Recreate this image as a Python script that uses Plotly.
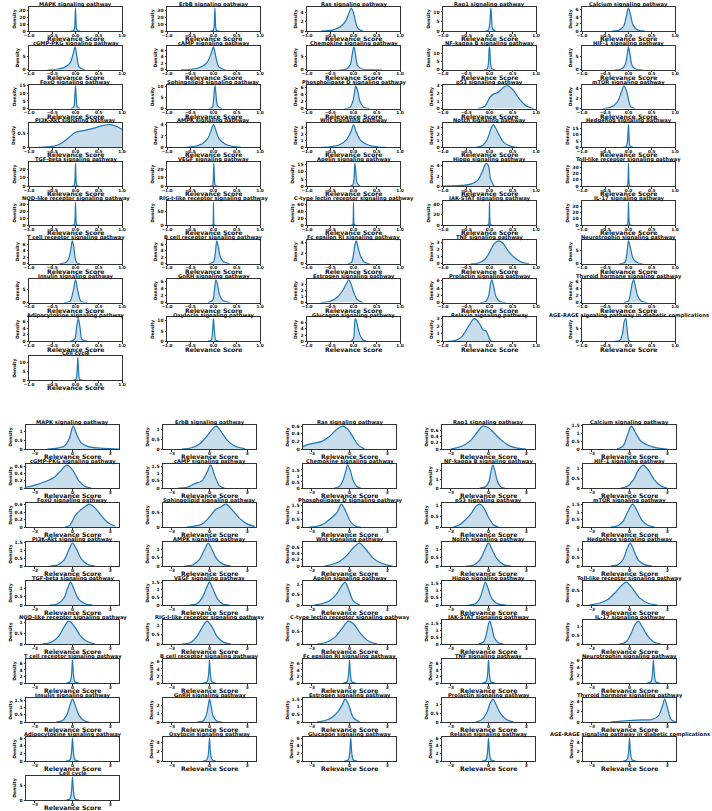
import plotly.graph_objects as go

names = [
    "MAPK signaling pathway", "ErbB signaling pathway", "Ras signaling pathway",
    "Rap1 signaling pathway", "Calcium signaling pathway",
    "cGMP-PKG signaling pathway", "cAMP signaling pathway", "Chemokine signaling pathway",
    "NF-kappa B signaling pathway", "HIF-1 signaling pathway",
    "FoxO signaling pathway", "Sphingolipid signaling pathway", "Phospholipase D signaling pathway",
    "p53 signaling pathway", "mTOR signaling pathway",
    "PI3K-Akt signaling pathway", "AMPK signaling pathway", "Wnt signaling pathway",
    "Notch signaling pathway", "Hedgehog signaling pathway",
    "TGF-beta signaling pathway", "VEGF signaling pathway", "Apelin signaling pathway",
    "Hippo signaling pathway", "Toll-like receptor signaling pathway",
    "NOD-like receptor signaling pathway", "RIG-I-like receptor signaling pathway",
    "C-type lectin receptor signaling pathway", "JAK-STAT signaling pathway", "IL-17 signaling pathway",
    "T cell receptor signaling pathway", "B cell receptor signaling pathway",
    "Fc epsilon RI signaling pathway", "TNF signaling pathway", "Neurotrophin signaling pathway",
    "Insulin signaling pathway", "GnRH signaling pathway", "Estrogen signaling pathway",
    "Prolactin signaling pathway", "Thyroid hormone signaling pathway",
    "Adipocytokine signaling pathway", "Oxytocin signaling pathway", "Glucagon signaling pathway",
    "Relaxin signaling pathway", "AGE-RAGE signaling pathway in diabetic complications",
    "Cell cycle",
]

# upper panel: density curves (x = relevance score)
top_x = [
    [-0.1, -0.04, -0.02, -0.01, 0, 0.01, 0.02, 0.04, 0.1],
    [-0.07, -0.01, 0.01, 0.02, 0.03, 0.04, 0.05, 0.07, 0.13],
    [-0.7, -0.45, -0.3, -0.18, -0.1, -0.05, 0.0, 0.05, 0.1, 0.2],
    [-0.08, -0.03, 0.0, 0.02, 0.03, 0.045, 0.07, 0.13],
    [-0.35, -0.2, -0.1, -0.05, 0, 0.05, 0.1, 0.2, 0.35],
    [-0.6, -0.4, -0.25, -0.12, -0.05, -0.01, 0.03, 0.08, 0.2],
    [-0.7, -0.45, -0.3, -0.15, -0.05, 0.0, 0.05, 0.12, 0.25],
    [-0.3, -0.15, -0.07, -0.02, 0.01, 0.04, 0.09, 0.2, 0.4, 0.6],
    [-0.12, -0.05, -0.02, -0.005, 0.005, 0.02, 0.05, 0.12],
    [-0.3, -0.15, -0.07, -0.02, 0, 0.03, 0.08, 0.15, 0.3],
    [-0.1, -0.04, -0.015, 0, 0.015, 0.04, 0.1],
    [-0.1, -0.03, 0.0, 0.02, 0.035, 0.055, 0.09, 0.18],
    [-0.2, -0.08, -0.02, 0.02, 0.05, 0.09, 0.14, 0.22, 0.35],
    [-0.25, -0.1, 0.0, 0.08, 0.18, 0.3, 0.38, 0.5, 0.65, 0.8, 0.95],
    [-0.55, -0.4, -0.25, -0.15, -0.1, -0.05, 0.0, 0.05, 0.15],
    [-0.8, -0.6, -0.45, -0.3, -0.15, 0.0, 0.2, 0.4, 0.6, 0.75, 0.9, 1.0],
    [-0.6, -0.4, -0.25, -0.12, -0.05, 0.0, 0.05, 0.12, 0.25, 0.4, 0.6],
    [-0.7, -0.5, -0.3, -0.15, -0.05, 0.0, 0.05, 0.15, 0.3, 0.5, 0.7],
    [-0.3, -0.15, -0.05, 0.03, 0.08, 0.13, 0.2, 0.3, 0.45, 0.6],
    [-0.12, -0.05, -0.025, -0.01, 0, 0.012, 0.035, 0.1],
    [-0.08, -0.03, -0.012, 0.0, 0.012, 0.03, 0.08],
    [-0.07, -0.02, -0.005, 0.008, 0.02, 0.04, 0.09],
    [-0.08, -0.02, 0.01, 0.03, 0.05, 0.08, 0.14],
    [-1.0, -0.8, -0.6, -0.4, -0.25, -0.15, -0.07, -0.02, 0.02, 0.1],
    [-0.07, -0.025, -0.01, 0.0, 0.01, 0.025, 0.07],
    [-0.07, -0.025, -0.01, 0.0, 0.01, 0.025, 0.07],
    [-0.04, -0.012, -0.005, 0.0, 0.005, 0.012, 0.04],
    [-0.05, -0.015, -0.006, 0.0, 0.006, 0.015, 0.05],
    [-0.06, -0.02, -0.008, 0.0, 0.008, 0.02, 0.06],
    [-0.07, -0.025, -0.01, 0.0, 0.01, 0.025, 0.07],
    [-0.35, -0.22, -0.15, -0.1, -0.07, -0.04, -0.01, 0.03, 0.1],
    [-0.1, 0.0, 0.04, 0.07, 0.1, 0.15, 0.22, 0.35],
    [-0.12, -0.04, 0.0, 0.03, 0.06, 0.1, 0.16, 0.24, 0.35],
    [-0.4, -0.25, -0.1, 0.0, 0.1, 0.2, 0.3, 0.4, 0.55, 0.7, 0.85],
    [-0.2, -0.08, -0.04, 0.0, 0.04, 0.1, 0.18, 0.3],
    [-0.25, -0.12, -0.05, 0.0, 0.05, 0.12, 0.25],
    [-0.12, -0.02, 0.02, 0.05, 0.08, 0.13, 0.2, 0.35],
    [-0.7, -0.5, -0.35, -0.25, -0.15, -0.1, -0.05, 0.0, 0.08, 0.2],
    [-0.2, -0.08, -0.02, 0.02, 0.05, 0.09, 0.14, 0.22, 0.35],
    [-0.1, 0.0, 0.04, 0.08, 0.11, 0.15, 0.2, 0.28, 0.4],
    [-0.12, -0.02, 0.02, 0.06, 0.1, 0.14, 0.25],
    [-0.12, -0.05, -0.02, 0.0, 0.02, 0.05, 0.12],
    [-0.05, 0.0, 0.02, 0.04, 0.07, 0.1, 0.14, 0.2, 0.28],
    [-0.9, -0.75, -0.6, -0.45, -0.33, -0.22, -0.14, -0.08, -0.03, 0.02, 0.08],
    [-0.3, -0.18, -0.13, -0.09, -0.06, -0.03, -0.01, 0.02],
    [-0.05, 0.01, 0.035, 0.05, 0.065, 0.09, 0.15],
]
top_y = [
    [0, 0.5, 4, 16, 33, 16, 4, 0.5, 0],
    [0, 0.5, 4, 16, 33, 16, 4, 0.5, 0],
    [0, 0.2, 0.8, 2.0, 3.8, 5.0, 4.0, 1.8, 0.5, 0],
    [0, 0.3, 3, 9, 12, 7, 1, 0],
    [0, 0.3, 1.5, 4, 6.5, 4.2, 1.6, 0.3, 0],
    [0, 0.2, 0.8, 2.5, 6, 8.5, 5, 1, 0],
    [0, 0.2, 0.7, 2, 5, 7, 4, 0.8, 0],
    [0, 0.3, 2, 6.5, 8.5, 6, 1.5, 0.2, 0.1, 0],
    [0, 0.5, 5, 14, 13, 5, 0.5, 0],
    [0, 0.3, 2, 6.5, 8.5, 6, 1.5, 0.3, 0],
    [0, 1, 8, 15, 8, 1, 0],
    [0, 0.4, 3.5, 9, 10.5, 6, 1.2, 0],
    [0, 0.3, 1.8, 4.5, 6.5, 5, 2, 0.4, 0],
    [0, 0.3, 1.4, 1.9, 2.1, 2.8, 3.0, 2.5, 1.2, 0.3, 0],
    [0, 0.2, 1.2, 3.4, 4.6, 3.8, 1.8, 0.4, 0],
    [0, 0.02, 0.05, 0.15, 0.35, 0.55, 0.62, 0.7, 0.8, 0.83, 0.75, 0.65],
    [0, 0.2, 0.6, 1.6, 3.0, 4.0, 3.0, 1.5, 0.6, 0.2, 0],
    [0, 0.1, 0.4, 1.2, 2.5, 3.5, 2.5, 1.1, 0.4, 0.1, 0],
    [0, 0.3, 1.2, 2.8, 3.5, 3.0, 2.0, 0.8, 0.2, 0],
    [0, 0.5, 4, 12, 18, 9, 1, 0],
    [0, 0.5, 8, 27, 8, 0.5, 0],
    [0, 0.5, 8, 27, 9, 0.8, 0],
    [0, 0.5, 5, 16, 10, 2, 0],
    [0.02, 0.05, 0.15, 0.4, 1.2, 3.0, 4.5, 4.0, 1.5, 0],
    [0, 0.5, 9, 36, 9, 0.5, 0],
    [0, 0.5, 9, 34, 9, 0.5, 0],
    [0, 1, 20, 82, 20, 1, 0],
    [0, 1, 18, 68, 18, 1, 0],
    [0, 0.8, 12, 44, 12, 0.8, 0],
    [0, 0.5, 10, 37, 10, 0.5, 0],
    [0, 0.3, 1.5, 4.5, 7, 5.5, 2, 0.3, 0],
    [0, 0.6, 3.5, 7, 5.5, 2, 0.6, 0],
    [0, 0.3, 1.8, 3.6, 4.3, 3.0, 1.3, 0.3, 0],
    [0, 0.1, 0.6, 1.6, 2.8, 3.2, 2.8, 1.8, 0.8, 0.2, 0],
    [0, 0.5, 3, 8.5, 6, 2, 0.5, 0],
    [0, 0.5, 4.5, 9, 4.5, 0.5, 0],
    [0, 0.6, 3.5, 6.5, 5.5, 2.2, 0.6, 0],
    [0, 0.2, 0.9, 1.8, 3.2, 3.8, 3.0, 1.8, 0.5, 0],
    [0, 0.3, 1.8, 5, 6.3, 4.5, 1.6, 0.3, 0],
    [0, 0.5, 2.5, 5.5, 6.5, 4.5, 1.8, 0.4, 0],
    [0, 0.6, 4, 7, 4, 0.6, 0],
    [0, 0.6, 5, 11, 5, 0.6, 0],
    [0, 1.0, 4.5, 7.2, 6.0, 4, 2, 0.5, 0],
    [0, 0.1, 0.6, 2.0, 3.0, 2.4, 1.5, 1.4, 0.8, 0.1, 0],
    [0, 0.5, 3, 8, 9, 5, 1.5, 0],
    [0, 0.5, 6, 13, 6, 0.5, 0],
]

# lower panel
bot_x = [
    [-2, -1.2, -0.6, -0.25, 0.05, 0.35, 0.7, 1.2, 2.0, 3.0, 3.7],
    [-2.2, -1.5, -0.8, -0.2, 0.3, 0.55, 0.9, 1.4, 2.0, 2.8],
    [-3.7, -3.2, -2.7, -2.2, -1.6, -1.0, -0.55, -0.1, 0.3, 0.7, 1.2],
    [-3.0, -2.2, -1.5, -0.9, -0.45, 0.0, 0.5, 1.0, 1.6, 2.3, 3.0],
    [-1.0, -0.5, -0.2, 0.15, 0.5, 0.9, 1.3, 1.8, 2.3, 3.0],
    [-3.7, -3.0, -2.0, -1.5, -1.0, -0.45, 0.0, 0.5, 1.0, 1.5],
    [-2.5, -1.8, -1.2, -0.6, -0.2, 0.1, 0.4, 0.8, 1.2],
    [-1.2, -0.8, -0.5, -0.3, -0.15, 0.05, 0.3, 0.6, 0.9],
    [-0.7, -0.3, 0.0, 0.2, 0.35, 0.5, 0.7, 1.0, 1.3],
    [-0.7, -0.2, 0.3, 0.7, 1.1, 1.5, 2.0, 2.5, 3.0],
    [-0.6, -0.2, 0.2, 0.6, 1.0, 1.3, 1.7, 2.2, 2.8, 3.4],
    [-1.8, -1.2, -0.6, 0.0, 0.5, 0.9, 1.3, 1.8, 2.4, 3.0, 3.6],
    [-3.2, -2.6, -2.0, -1.5, -1.0, -0.65, -0.3, 0.1, 0.5, 0.9],
    [-2.8, -2.3, -1.8, -1.4, -1.0, -0.7, -0.4, 0.0, 0.4, 0.8],
    [-1.5, -0.9, -0.5, -0.1, 0.25, 0.6, 1.0, 1.5, 2.0],
    [-1.8, -1.2, -0.7, -0.3, 0.0, 0.3, 0.7, 1.2, 1.8],
    [-2.0, -1.3, -0.8, -0.4, -0.1, 0.2, 0.6, 1.1, 1.7],
    [-2.0, -1.4, -0.8, -0.2, 0.3, 0.8, 1.3, 1.9, 2.6, 3.4],
    [-1.8, -1.2, -0.7, -0.3, 0.0, 0.3, 0.7, 1.2, 1.8],
    [-1.5, -0.9, -0.5, -0.2, 0.05, 0.3, 0.7, 1.2, 1.8],
    [-1.8, -1.2, -0.7, -0.4, -0.15, 0.1, 0.5, 1.0, 1.6],
    [-1.6, -1.0, -0.6, -0.25, 0.0, 0.25, 0.6, 1.0, 1.6],
    [-2.8, -2.2, -1.6, -1.0, -0.6, -0.35, -0.1, 0.3, 0.8],
    [-1.6, -1.0, -0.7, -0.45, -0.25, -0.05, 0.3, 0.8, 1.4],
    [-3.2, -2.4, -1.7, -1.1, -0.6, -0.25, 0.2, 0.8, 1.5, 2.2],
    [-2.4, -1.7, -1.1, -0.7, -0.3, 0.1, 0.6, 1.2, 1.8],
    [-2.2, -1.5, -1.0, -0.6, -0.2, 0.2, 0.6, 1.1, 1.7],
    [-2.6, -1.9, -1.2, -0.6, -0.1, 0.4, 0.9, 1.5, 2.2],
    [-0.8, -0.4, -0.15, 0.0, 0.1, 0.25, 0.45, 0.8, 1.2],
    [-0.8, -0.3, 0.1, 0.4, 0.7, 1.0, 1.4, 1.9, 2.5],
    [-0.5, -0.2, -0.08, 0.0, 0.08, 0.2, 0.5],
    [-0.5, -0.2, -0.08, 0.0, 0.08, 0.2, 0.5],
    [-0.5, -0.2, -0.08, 0.0, 0.08, 0.2, 0.5],
    [-0.5, -0.2, -0.08, 0.0, 0.08, 0.2, 0.5],
    [1.4, 1.7, 1.82, 1.9, 1.98, 2.1, 2.4],
    [-1.3, -0.8, -0.45, -0.2, 0.0, 0.2, 0.5, 0.9, 1.3],
    [-1.0, -0.5, -0.25, -0.1, 0.0, 0.12, 0.3, 0.6, 1.0],
    [-2.6, -2.0, -1.4, -0.9, -0.6, -0.35, -0.1, 0.3, 0.8],
    [-1.0, -0.5, -0.1, 0.15, 0.35, 0.6, 0.9, 1.4, 2.0],
    [-1.5, -0.8, 0.0, 1.0, 1.8, 2.3, 2.6, 2.8, 3.0, 3.3, 3.7],
    [-0.5, -0.2, -0.08, 0.0, 0.08, 0.2, 0.5],
    [-0.5, -0.2, -0.08, 0.0, 0.08, 0.2, 0.5],
    [-0.4, -0.1, 0.02, 0.1, 0.18, 0.3, 0.6],
    [-0.5, -0.2, -0.08, 0.0, 0.08, 0.2, 0.5],
    [-0.5, -0.2, -0.08, 0.0, 0.08, 0.2, 0.5],
    [-0.5, -0.2, -0.08, 0.0, 0.08, 0.2, 0.5],
]
bot_y = [
    [0, 0.05, 0.2, 0.6, 1.3, 0.8, 0.35, 0.15, 0.06, 0.02, 0],
    [0, 0.05, 0.25, 0.65, 1.05, 1.15, 0.9, 0.45, 0.15, 0.02],
    [0.07, 0.13, 0.16, 0.2, 0.33, 0.52, 0.6, 0.5, 0.3, 0.1, 0],
    [0, 0.08, 0.25, 0.55, 0.75, 0.7, 0.5, 0.3, 0.12, 0.03, 0],
    [0, 0.2, 0.8, 1.45, 1.0, 0.5, 0.3, 0.15, 0.05, 0],
    [0.02, 0.08, 0.2, 0.28, 0.45, 0.63, 0.5, 0.2, 0.04, 0],
    [0, 0.05, 0.3, 0.5, 1.1, 1.6, 0.9, 0.15, 0],
    [0, 0.15, 0.7, 1.4, 1.9, 1.5, 0.6, 0.1, 0],
    [0, 0.1, 0.6, 1.9, 2.6, 2.0, 0.8, 0.1, 0],
    [0, 0.08, 0.4, 0.9, 1.15, 0.9, 0.4, 0.1, 0],
    [0, 0.05, 0.3, 0.45, 0.55, 0.62, 0.55, 0.35, 0.12, 0.02],
    [0, 0.03, 0.1, 0.35, 0.62, 0.7, 0.8, 0.6, 0.3, 0.1, 0.02],
    [0, 0.05, 0.25, 0.6, 1.0, 1.6, 1.1, 0.35, 0.05, 0],
    [0, 0.1, 0.35, 0.6, 0.95, 1.05, 0.9, 0.45, 0.1, 0],
    [0, 0.1, 0.4, 1.1, 1.55, 1.1, 0.45, 0.1, 0],
    [0, 0.06, 0.35, 1.0, 1.45, 1.1, 0.45, 0.1, 0],
    [0, 0.08, 0.4, 1.0, 1.4, 1.0, 0.4, 0.1, 0],
    [0, 0.05, 0.15, 0.35, 0.6, 0.75, 0.55, 0.25, 0.08, 0],
    [0, 0.06, 0.35, 0.95, 1.35, 0.95, 0.4, 0.08, 0],
    [0, 0.08, 0.4, 1.0, 1.35, 1.0, 0.35, 0.08, 0],
    [0, 0.06, 0.4, 1.0, 1.4, 1.0, 0.35, 0.08, 0],
    [0, 0.08, 0.45, 1.1, 1.5, 1.1, 0.45, 0.08, 0],
    [0, 0.06, 0.2, 0.55, 0.95, 1.1, 0.8, 0.2, 0],
    [0, 0.1, 0.45, 1.1, 1.6, 1.2, 0.4, 0.06, 0],
    [0, 0.06, 0.2, 0.45, 0.7, 0.8, 0.6, 0.25, 0.06, 0],
    [0, 0.08, 0.35, 0.75, 1.05, 0.85, 0.4, 0.1, 0],
    [0, 0.08, 0.4, 0.85, 1.2, 0.9, 0.4, 0.1, 0],
    [0, 0.06, 0.25, 0.6, 0.9, 0.75, 0.4, 0.12, 0],
    [0, 0.15, 0.8, 1.5, 1.7, 1.3, 0.5, 0.08, 0],
    [0, 0.1, 0.55, 1.05, 1.3, 1.0, 0.5, 0.12, 0],
    [0, 0.3, 2.5, 7, 2.5, 0.3, 0],
    [0, 0.3, 2.2, 6.5, 2.2, 0.3, 0],
    [0, 0.3, 2.5, 7, 2.5, 0.3, 0],
    [0, 0.3, 2.5, 7, 2.5, 0.3, 0],
    [0, 0.3, 2.2, 6, 2.2, 0.3, 0],
    [0, 0.1, 0.5, 1.2, 1.6, 1.2, 0.5, 0.1, 0],
    [0, 0.15, 0.9, 2.0, 2.8, 2.0, 0.7, 0.1, 0],
    [0, 0.08, 0.3, 0.7, 1.1, 1.5, 1.2, 0.3, 0],
    [0, 0.15, 0.6, 1.1, 1.3, 1.0, 0.55, 0.15, 0],
    [0, 0.15, 0.3, 0.4, 0.5, 1.2, 3.0, 4.5, 3.0, 0.5, 0],
    [0, 0.3, 2.2, 6, 2.2, 0.3, 0],
    [0, 0.3, 1.8, 5, 1.8, 0.3, 0],
    [0, 0.3, 2.2, 6, 2.2, 0.3, 0],
    [0, 0.3, 2.2, 6, 2.2, 0.3, 0],
    [0, 0.3, 1.8, 5, 1.8, 0.3, 0],
    [0, 0.4, 3, 8, 3, 0.4, 0],
]

W, H = 712, 811
BLUE = "#1f77b4"
FONT = "DejaVu Sans"

panels = [
    # curves, x range, x tick step, tick format, column lefts, first row top, row step, plot height
    (top_x, top_y, [-1, 1], 0.5, ".1f", [29, 167, 307, 443, 582], 7, 38.8, 24),
    (bot_x, bot_y, [-3.7, 3.7], 3, "d", [26, 163, 303, 442, 583], 425, 39, 24),
]
col_w = 93


def txt(size):
    return dict(family=FONT, size=size, weight="bold", color="#111")


fig = go.Figure()
layout = {}
annotations = []
k = 0
for xs_all, ys_all, xr, dt, fmt, lefts, top0, step, plot_h in panels:
    for i, name in enumerate(names):
        k += 1
        r, c = divmod(i, 5)
        x0 = lefts[c]
        y0 = top0 + r * step
        sfx = "" if k == 1 else str(k)
        xs, ys = xs_all[i], ys_all[i]
        fig.add_trace(go.Scatter(
            x=xs, y=ys, mode="lines", line=dict(color=BLUE, width=1.2, shape="spline", smoothing=0.9),
            fill="tozeroy", fillcolor="rgba(31,119,180,0.25)", showlegend=False,
            xaxis="x" + sfx, yaxis="y" + sfx, hoverinfo="skip",
        ))
        ax = dict(showline=True, mirror=True, linecolor="#333", linewidth=1, showgrid=False,
                  zeroline=False, ticks="outside", ticklen=1.5, tickwidth=0.8, tickcolor="#333",
                  automargin=False)
        layout["xaxis" + sfx] = dict(
            ax, domain=[x0 / W, (x0 + col_w) / W], anchor="y" + sfx, range=xr,
            tick0=0, dtick=dt, tickformat=fmt, tickfont=txt(4.3), ticklabelstandoff=-2,
        )
        layout["yaxis" + sfx] = dict(
            ax, domain=[1 - (y0 + plot_h) / H, 1 - y0 / H], anchor="x" + sfx,
            range=[0, max(ys) * 1.05], nticks=4, tickfont=txt(4.5),
            title=dict(text="Density", standoff=2, font=txt(4.5)),
        )
        cx = (x0 + col_w / 2) / W
        annotations.append(dict(
            text=name, xref="paper", yref="paper", x=cx, y=1 - (y0 - 2.4) / H,
            xanchor="center", yanchor="middle", showarrow=False, font=txt(5.2), borderpad=0,
        ))
        annotations.append(dict(
            text="Relevance Score", xref="paper", yref="paper", x=cx,
            y=1 - (y0 + plot_h + 7.6) / H,
            xanchor="center", yanchor="middle", showarrow=False, font=txt(6.2), borderpad=0,
        ))

fig.update_layout(**layout)
fig.update_layout(
    width=W, height=H, margin=dict(l=0, r=0, t=0, b=0),
    paper_bgcolor="white", plot_bgcolor="white", template="none",
    annotations=annotations,
)
fig.write_html("out.html", config={"displayModeBar": False},
               post_script="document.body.style.margin='0';")
